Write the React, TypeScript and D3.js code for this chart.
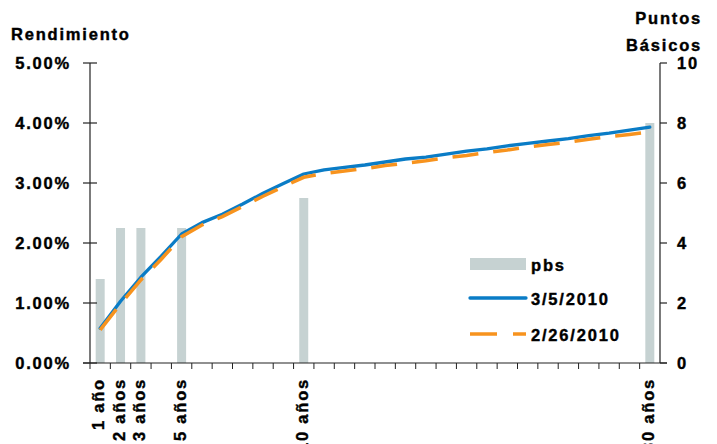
import React from "react";
import * as d3 from "d3";

// Tenors along the curve (one slot per point); only some carry a label
const tenorLabels: string[] = [
  "1 año", "2 años", "3 años", "", "5 años", "", "", "", "", "", "10 años",
  "", "", "", "", "", "", "", "", "", "", "", "", "", "", "", "", "30 años",
];

// Yield curve on 3/5/2010 (%)
const curveMar5: number[] = [
  0.58, 1.03, 1.43, 1.78, 2.15, 2.34, 2.48, 2.65, 2.83, 2.99, 3.15,
  3.22, 3.26, 3.3, 3.35, 3.4, 3.43, 3.48, 3.53, 3.57, 3.62, 3.66, 3.7,
  3.74, 3.79, 3.83, 3.88, 3.93,
];

// Yield curve on 2/26/2010 (%)
const curveFeb26: number[] = [
  0.552, 0.985, 1.385, 1.73, 2.105, 2.3, 2.44, 2.61, 2.78, 2.94, 3.095,
  3.16, 3.2, 3.24, 3.29, 3.33, 3.37, 3.42, 3.46, 3.51, 3.55, 3.6, 3.64,
  3.68, 3.73, 3.77, 3.81, 3.85,
];

// Change in basis points at the benchmark tenors
const changeBps: (number | null)[] = [
  2.8, 4.5, 4.5, null, 4.5, null, null, null, null, null, 5.5,
  null, null, null, null, null, null, null, null, null, null, null, null,
  null, null, null, null, 8,
];

const leftTicks: number[] = [0, 1, 2, 3, 4, 5];
const rightTicks: number[] = [0, 2, 4, 6, 8, 10];

const W = 717;
const H = 444;
const left = 90;
const right = 660;
const top = 63;
const bottom = 363;

const FONT = "'Liberation Sans', Arial, sans-serif";
const BAR = "#c6d2d2";
const BLUE = "#0a7cc6";
const ORANGE = "#f7931e";

export default function App() {
  const idx = d3.range(tenorLabels.length);
  const x = d3.scaleBand<number>().domain(idx).range([left, right]).paddingInner(0).paddingOuter(0);
  const cx = (i: number) => (x(i) as number) + x.bandwidth() / 2;
  const yL = d3.scaleLinear().domain([0, 5]).range([bottom, top]);
  const yR = d3.scaleLinear().domain([0, 10]).range([bottom, top]);

  const line = d3
    .line<number>()
    .x((_, i) => cx(i))
    .y((v) => yL(v));

  const barW = 9;
  const textStyle = {
    fontFamily: FONT,
    fontWeight: 700,
    fontSize: 16.5,
    letterSpacing: 1.8,
    fill: "#000",
    stroke: "#000",
    strokeWidth: 0.4,
  } as React.CSSProperties;

  return (
    <svg
      width={W}
      height={H}
      style={{ position: "absolute", left: 0, top: 0, background: "#fff" }}
    >
      {/* bars: change in basis points, right axis */}
      {changeBps.map((v, i) =>
        v == null ? null : (
          <rect
            key={"b" + i}
            x={cx(i) - barW / 2}
            y={yR(v)}
            width={barW}
            height={yR(0) - yR(v)}
            fill={BAR}
          />
        )
      )}

      {/* yield curves */}
      <path d={line(curveMar5) || ""} fill="none" stroke={BLUE} strokeWidth={3.3} strokeLinejoin="round" strokeLinecap="round" />
      <path
        d={line(curveFeb26) || ""}
        fill="none"
        stroke={ORANGE}
        strokeWidth={3.5}
        strokeDasharray="26,15"
      />

      {/* left axis */}
      <line x1={left} x2={left} y1={top} y2={bottom} stroke="#222" strokeWidth={1.2} />
      {leftTicks.map((t) => (
        <g key={"l" + t}>
          <line x1={left - 7} x2={left + 7} y1={yL(t)} y2={yL(t)} stroke="#222" strokeWidth={1.2} />
          <text x={71} y={yL(t) + 6} textAnchor="end" style={textStyle}>
            {t.toFixed(2) + "%"}
          </text>
        </g>
      ))}

      {/* right axis */}
      <line x1={right} x2={right} y1={top} y2={bottom} stroke="#222" strokeWidth={1.2} />
      {rightTicks.map((t) => (
        <g key={"r" + t}>
          <line x1={right} x2={right + 7} y1={yR(t)} y2={yR(t)} stroke="#222" strokeWidth={1.2} />
          <text x={677} y={yR(t) + 6} textAnchor="start" style={textStyle}>
            {t}
          </text>
        </g>
      ))}

      {/* category axis */}
      <line x1={left - 7} x2={right + 7} y1={bottom} y2={bottom} stroke="#222" strokeWidth={1.2} />
      {idx.map((i) => (
        <line
          key={"t" + i}
          x1={x(i) as number}
          x2={x(i) as number}
          y1={bottom}
          y2={bottom + 6}
          stroke="#222"
          strokeWidth={1}
        />
      ))}
      {tenorLabels.map((s, i) =>
        s ? (
          <text
            key={"c" + i}
            transform={`translate(${cx(i) + 4},${378}) rotate(-90)`}
            textAnchor="end"
            style={textStyle}
          >
            {s}
          </text>
        ) : null
      )}

      {/* axis titles */}
      <text x={11} y={40} style={textStyle}>
        Rendimiento
      </text>
      <text x={702} y={24} textAnchor="end" style={textStyle}>
        Puntos
      </text>
      <text x={702} y={51} textAnchor="end" style={textStyle}>
        Básicos
      </text>

      {/* legend */}
      <rect x={470} y={258} width={56} height={12} fill={BAR} />
      <text x={531} y={271} style={textStyle}>
        pbs
      </text>
      <line x1={470} x2={526} y1={298} y2={298} stroke={BLUE} strokeWidth={3.3} strokeLinecap="round" />
      <text x={531} y={305} style={textStyle}>
        3/5/2010
      </text>
      <line x1={470} x2={526} y1={334} y2={334} stroke={ORANGE} strokeWidth={3.5} strokeDasharray="27,16" />
      <text x={531} y={341} style={textStyle}>
        2/26/2010
      </text>
    </svg>
  );
}
